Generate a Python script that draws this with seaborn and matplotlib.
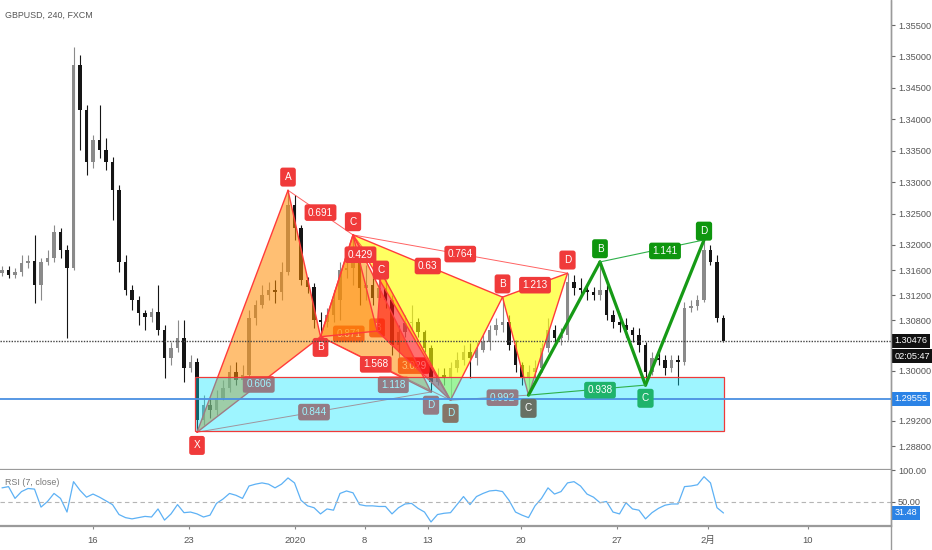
import numpy as np
import pandas as pd
import matplotlib
matplotlib.use("Agg")
import matplotlib.pyplot as plt
import seaborn as sns
from matplotlib.patches import Polygon, Rectangle

sns.set_theme(style="white")
plt.rcParams["font.family"] = ["Liberation Sans", "DejaVu Sans", "Noto Sans CJK JP"]

# ---------------- data (GBPUSD, 8h-resampled candles) ----------------
opens = [1.3155,1.3160,1.3152,1.3157,1.3171,1.3174,1.3136,1.3173,1.3179,1.3221,
         1.3192,1.3163,1.3486,1.3415,1.3332,1.3367,1.3351,1.3332,1.3287,1.3173,
         1.3128,1.3112,1.3092,1.3085,1.3093,1.3065,1.3020,1.3036,1.3052,1.3004,
         1.3014,1.2921,1.2945,1.2937,1.2956,1.2972,1.2998,1.2985,1.2993,1.3084,
         1.3104,1.3120,1.3128,1.3125,1.3157,1.3264,1.3227,1.3144,1.3133,1.3081,
         1.3077,1.3089,1.3112,1.3160,1.3163,1.3173,1.3132,1.3136,1.3116,1.3132,
         1.3112,1.3041,1.3061,1.3076,1.3077,1.3061,1.3036,1.2982,1.2993,1.2988,
         1.3004,1.3017,1.3030,1.3020,1.3033,1.3046,1.3065,1.3073,1.3077,1.3041,
         1.3009,1.2988,1.2998,1.3004,1.3036,1.3065,1.3052,1.3057,1.3141,1.3132,
         1.3128,1.3125,1.3120,1.3128,1.3089,1.3077,1.3073,1.3065,1.3057,1.3041,
         1.2998,1.3020,1.3017,1.3004,1.3017,1.3014,1.3100,1.3103,1.3112,1.3192,
         1.3173,1.3084]
highs = [1.3167,1.3167,1.3163,1.3184,1.3184,1.3216,1.3179,1.3192,1.3232,1.3227,
         1.3200,1.3515,1.3502,1.3423,1.3375,1.3423,1.3370,1.3340,1.3295,1.3184,
         1.3136,1.3119,1.3096,1.3100,1.3136,1.3073,1.3046,1.3081,1.3081,1.3025,
         1.3020,1.2961,1.2956,1.2969,1.2985,1.3009,1.3014,1.3009,1.3096,1.3112,
         1.3136,1.3141,1.3144,1.3173,1.3287,1.3280,1.3232,1.3149,1.3139,1.3093,
         1.3100,1.3128,1.3173,1.3176,1.3216,1.3184,1.3168,1.3147,1.3157,1.3144,
         1.3120,1.3073,1.3089,1.3104,1.3084,1.3065,1.3041,1.3004,1.3004,1.3014,
         1.3030,1.3041,1.3044,1.3046,1.3057,1.3073,1.3084,1.3117,1.3089,1.3049,
         1.3014,1.3009,1.3017,1.3044,1.3084,1.3073,1.3068,1.3155,1.3152,1.3147,
         1.3139,1.3133,1.3173,1.3136,1.3096,1.3092,1.3084,1.3069,1.3068,1.3046,
         1.3030,1.3030,1.3025,1.3025,1.3025,1.3109,1.3112,1.3120,1.3208,1.3200,
         1.3184,1.3089]
lows = [1.3151,1.3147,1.3147,1.3151,1.3163,1.3108,1.3112,1.3168,1.3173,1.3179,
        1.3052,1.3160,1.3351,1.3311,1.3322,1.3338,1.3319,1.3240,1.3157,1.3120,
        1.3096,1.3073,1.3065,1.3077,1.3057,1.2988,1.3009,1.3030,1.2982,1.2998,
        1.2902,1.2914,1.2925,1.2929,1.2953,1.2966,1.2977,1.2966,1.2988,1.3073,
        1.3100,1.3112,1.3108,1.3112,1.3152,1.3208,1.3136,1.3124,1.3068,1.3054,
        1.3069,1.3077,1.3081,1.3147,1.3136,1.3104,1.3112,1.3104,1.3112,1.3100,
        1.3025,1.3020,1.3054,1.3065,1.3054,1.3030,1.2966,1.2977,1.2977,1.2953,
        1.2998,1.3009,1.2988,1.3009,1.3030,1.3033,1.3057,1.3061,1.3033,1.2998,
        1.2977,1.2961,1.2988,1.2998,1.3030,1.3041,1.3041,1.3049,1.3120,1.3119,
        1.3112,1.3112,1.3112,1.3081,1.3068,1.3061,1.3054,1.3046,1.3030,1.2977,
        1.2993,1.3009,1.2993,1.2998,1.2977,1.3009,1.3093,1.3096,1.3109,1.3168,
        1.3077,1.3046]
closes = [1.3160,1.3152,1.3157,1.3171,1.3174,1.3136,1.3173,1.3179,1.3221,1.3192,
          1.3163,1.3486,1.3415,1.3332,1.3367,1.3351,1.3332,1.3287,1.3173,1.3128,
          1.3112,1.3092,1.3085,1.3093,1.3065,1.3020,1.3036,1.3052,1.3004,1.3014,
          1.2921,1.2945,1.2937,1.2956,1.2972,1.2998,1.2985,1.2993,1.3084,1.3104,
          1.3120,1.3128,1.3125,1.3157,1.3264,1.3227,1.3144,1.3133,1.3081,1.3077,
          1.3089,1.3112,1.3160,1.3163,1.3173,1.3132,1.3136,1.3116,1.3132,1.3112,
          1.3041,1.3061,1.3076,1.3077,1.3061,1.3036,1.2982,1.2993,1.2988,1.3004,
          1.3017,1.3030,1.3020,1.3033,1.3046,1.3065,1.3073,1.3077,1.3041,1.3009,
          1.2988,1.2998,1.3004,1.3036,1.3065,1.3052,1.3057,1.3141,1.3132,1.3128,
          1.3125,1.3120,1.3128,1.3089,1.3077,1.3073,1.3065,1.3057,1.3041,1.2998,
          1.3020,1.3017,1.3004,1.3017,1.3014,1.3100,1.3103,1.3112,1.3192,1.3173,
          1.3084,1.30476]
rsi = [72,74,55,66,71,70,41,50,63,55,
       33,82,68,57,62,57,51,45,29,24,
       22,24,26,25,38,20,30,45,32,33,
       30,25,28,47,54,63,60,55,75,78,
       80,78,72,78,88,80,52,43,40,30,
       38,36,63,67,64,45,43,43,42,42,
       30,40,46,47,39,33,17,29,31,32,
       45,58,45,58,63,67,68,66,52,33,
       28,24,43,55,72,62,66,80,82,75,
       62,57,48,50,33,30,48,38,36,22,
       32,39,44,46,46,74,75,77,90,80,
       40,31.48]

date_labels = ["16", "23", "2020", "8", "13", "20", "27", "2月", "10"]
date_pos = [14.0, 28.8, 45.1, 55.8, 65.5, 79.8, 94.6, 108.6, 124.0]
price_ticks = [1.288, 1.292, 1.300, 1.308, 1.312, 1.316, 1.320,
               1.325, 1.330, 1.335, 1.340, 1.345, 1.350, 1.355]
last_price = 1.30476
hline_price = 1.29555
rsi_last = 31.48
countdown = "02:05:47"

# harmonic pattern points (candle index, price)
p1_x = [30, 44, 49, 54, 66]
p1_y = [1.2902, 1.3287, 1.3054, 1.3216, 1.2966]
p1_ratios = ["0.606", "0.691", "1.568", "0.844"]   # XB, AC, BD, XD
p2_x = [49, 54, 57.7, 58.3, 69]
p2_y = [1.3054, 1.3216, 1.3063, 1.3157, 1.2953]
p2_ratios = ["0.871", "0.429", "3.029", "1.118"]
p3_x = [54, 69, 77, 81, 87]
p3_y = [1.3216, 1.2953, 1.3117, 1.2961, 1.3155]
p3_ratios = ["0.63", "0.992", "1.213", "0.764"]
p4_x = [81, 92, 99, 108]
p4_y = [1.2961, 1.3173, 1.2977, 1.3208]
p4_ratios = ["0.938", "1.141"]   # AC, BD
zone_x = [29.7, 111.1]
zone_y = [1.2904, 1.2990]

# ---------------- figure ----------------
W, H = 932, 550
fig = plt.figure(figsize=(W / 100, H / 100), dpi=100)
ax = fig.add_axes([0, 80 / H, 891 / W, 470 / H])
ax2 = fig.add_axes([0, 24 / H, 891 / W, 56 / H])

XL = (-0.31, 136.77)
ax.set_xlim(*XL)
ax.set_ylim(1.28419, 1.35898)
ax2.set_xlim(*XL)
ax2.set_ylim(10.5, 100.8)

for a in (ax, ax2):
    a.set_facecolor("white")
    for s in ["top", "left"]:
        a.spines[s].set_visible(False)
    a.spines["right"].set_color("#9a9a9a")
    a.spines["bottom"].set_color("#9a9a9a")
    a.spines["bottom"].set_linewidth(1.6)
    a.spines["right"].set_linewidth(1.0)
    a.grid(False)

# candles
df = pd.DataFrame({"i": np.arange(len(closes)), "o": opens, "h": highs, "l": lows, "c": closes})
up = df.c >= df.o
cols = np.where(up, "#8a8a8a", "#151515")
ax.vlines(df.i, df.l, df.h, colors=cols, lw=0.8, zorder=2)
body = (df.c - df.o).abs().clip(lower=0.00008)
ax.bar(df.i, body, bottom=np.minimum(df.o, df.c), width=0.5, color=cols, lw=0, zorder=2.1)

RED = "#f03a3a"
LRED = "#ff3b3b"
ORANGE = "#ff8c00"


def tag(x, y, s, fc, tc="white", z=5, fs=7.2, pad=0.33):
    ax.text(x, y, s, ha="center", va="center", fontsize=fs, color=tc, zorder=z,
            bbox=dict(boxstyle=f"round,pad={pad},rounding_size=0.25", fc=fc, ec="none"))


def mid(xs, ys, a, b):
    return (xs[a] + xs[b]) / 2, (ys[a] + ys[b]) / 2


def tri(xs, ys, idx, fc, alpha, z):
    pts = [(xs[k], ys[k]) for k in idx]
    ax.add_patch(Polygon(pts, closed=True, fc=fc, ec="none", alpha=alpha, zorder=z))


def seg(xs, ys, a, b, color, lw, z, alpha=1.0):
    ax.plot([xs[a], xs[b]], [ys[a], ys[b]], color=color, lw=lw, zorder=z, alpha=alpha,
            solid_capstyle="round")


OFF = 0.0021
# --- pattern 2 (under the fills) faded labels
for (a, b), r in zip([(0, 2), (2, 4), (0, 4)], [p2_ratios[0], p2_ratios[2], p2_ratios[3]]):
    mx, my = mid(p2_x, p2_y, a, b)
    if r == p2_ratios[3]:
        mx, my = mx + 1.2, my - 0.0026
    tag(mx, my, r, RED, z=2.6)
tag(p2_x[2], p2_y[2] + 0.0005, "B", RED, z=2.6, pad=0.45)

# fills
tri(p1_x, p1_y, [0, 1, 2], ORANGE, 0.55, 3)
tri(p1_x, p1_y, [2, 3, 4], ORANGE, 0.55, 3)
tri(p2_x, p2_y, [0, 1, 2], ORANGE, 0.45, 3.1)
tri(p2_x, p2_y, [2, 3, 4], "#ff1010", 0.6, 3.1)
tri(p3_x, p3_y, [0, 1, 2], "#ffff00", 0.62, 3.2)
tri(p3_x, p3_y, [2, 3, 4], "#ffff00", 0.62, 3.2)

# outlines
for xs, ys in [(p1_x, p1_y), (p2_x, p2_y), (p3_x, p3_y)]:
    for a, b in [(0, 1), (1, 2), (2, 0), (2, 3), (3, 4), (4, 2)]:
        seg(xs, ys, a, b, LRED, 1.0, 4)
    for a, b in [(1, 3), (0, 4)]:
        seg(xs, ys, a, b, LRED, 0.7, 4, alpha=0.8)

# pattern 1 labels
for (a, b), r in zip([(0, 2), (1, 3), (2, 4), (0, 4)], p1_ratios):
    mx, my = mid(p1_x, p1_y, a, b)
    tag(mx, my, r, RED)
tag(p1_x[0], p1_y[0] - OFF, "X", RED, pad=0.45)
tag(p1_x[1], p1_y[1] + OFF, "A", RED, pad=0.45)
tag(p1_x[2], p1_y[2] - OFF + 0.0004, "B", RED, pad=0.45)
tag(p1_x[3], p1_y[3] + OFF, "C", RED, pad=0.45)
tag(p1_x[4], p1_y[4] - OFF, "D", RED, pad=0.45)
# pattern 2 visible labels
mx, my = mid(p2_x, p2_y, 1, 3)
tag(mx - 1.0, my - 0.0002, p2_ratios[1], RED, z=5)
tag(p2_x[3], p2_y[3] + 0.0003, "C", RED, z=5.1, pad=0.45)
tag(p2_x[4], p2_y[4] - OFF, "D", "#d8300a", pad=0.45)
# pattern 3 labels
for (a, b), r in zip([(0, 2), (1, 3), (2, 4), (0, 4)], p3_ratios):
    mx, my = mid(p3_x, p3_y, a, b)
    if r == "0.992":
        mx += 2.0
    tag(mx, my, r, RED)
tag(p3_x[2], p3_y[2] + OFF, "B", RED, pad=0.45)
tag(p3_x[4], p3_y[4] + OFF, "D", RED, pad=0.45)

# zone box
ax.add_patch(Rectangle((zone_x[0], zone_y[0]), zone_x[1] - zone_x[0], zone_y[1] - zone_y[0],
                       fc=(0.0, 0.9, 1.0, 0.38), ec="#ef3a3a", lw=0.9, zorder=6))

# horizontal lines
ax.axhline(hline_price, color="#4a90e2", lw=1.3, zorder=6.5)
ax.axhline(last_price, color="#444444", lw=1.0, ls=(0, (1, 1)), zorder=6.5)

# pattern 3 C label (shared with the ABCD start)
tag(p3_x[3], p3_y[3] - OFF, "C", "#687064", z=6.8, pad=0.45)

# pattern 4 (ABCD, green)
G = "#169a16"
for a, b in [(0, 1), (1, 2), (2, 3)]:
    seg(p4_x, p4_y, a, b, G, 2.3, 7)
for a, b in [(0, 2), (1, 3)]:
    seg(p4_x, p4_y, a, b, "#2fb04a", 0.8, 7)
mx, my = mid(p4_x, p4_y, 0, 2)
tag(mx + 2.0, my, p4_ratios[0], "#1fb36b", z=8)
mx, my = mid(p4_x, p4_y, 1, 3)
tag(mx + 2.0, my, p4_ratios[1], "#0e960e", z=8)
tag(p4_x[1], p4_y[1] + OFF, "B", "#0e960e", z=8, pad=0.45)
tag(p4_x[2], p4_y[2] - OFF, "C", "#1fb36b", z=8, pad=0.45)
tag(p4_x[3], p4_y[3] + 0.0014, "D", "#0e960e", z=8, pad=0.45)

# axes / ticks
ax.set_xticks([])
ax.yaxis.tick_right()
ax.set_yticks(price_ticks)
ax.set_yticklabels([f"{t:.5f}" for t in price_ticks])
ax.tick_params(axis="y", length=3, width=0.8, color="#666666", labelsize=6.6,
               labelcolor="#555555", pad=2, right=True)

ax.text(5 / 891, 1 - 15 / 470, "GBPUSD, 240, FXCM", transform=ax.transAxes,
        fontsize=6.4, color="#555555", ha="left", va="center")

trans = ax.get_yaxis_transform()


def axis_tag(a, tr, y, s, fc, dy=0):
    a.annotate(s, xy=(1.0, y), xycoords=tr, xytext=(2.5, dy), textcoords="offset points",
               ha="left", va="center", fontsize=6.6, color="white", annotation_clip=False,
               bbox=dict(boxstyle="square,pad=0.28", fc=fc, ec="none"), zorder=10)


axis_tag(ax, trans, last_price, f"{last_price:.5f}", "#111111")
axis_tag(ax, trans, last_price, countdown, "#111111", dy=-11)
axis_tag(ax, trans, hline_price, f"{hline_price:.5f}", "#2b83e6")

# RSI pane
idx = np.arange(len(rsi))
sns.lineplot(x=idx, y=rsi, ax=ax2, color="#5db1f5", linewidth=0.9)
ax2.axhline(50, color="#b5b5b5", lw=0.8, ls=(0, (4, 3)))
ax2.yaxis.tick_right()
ax2.set_yticks([50, 100])
ax2.set_yticklabels(["50.00", "100.00"])
ax2.tick_params(axis="y", length=3, width=0.8, color="#666666", labelsize=6.6,
                labelcolor="#555555", pad=2)
ax2.set_xticks(date_pos)
ax2.set_xticklabels(date_labels)
ax2.tick_params(axis="x", length=2, width=0.8, color="#888888", labelsize=6.8,
                labelcolor="#555555", pad=5, bottom=True)
ax2.set_xlabel("")
ax2.set_ylabel("")
ax2.text(5 / 891, 0.78, "RSI (7, close)", transform=ax2.transAxes, fontsize=6.4,
         color="#777777", ha="left", va="center")
axis_tag(ax2, ax2.get_yaxis_transform(), rsi_last, f"{rsi_last:.2f}", "#2b83e6")

# right axis vertical line over full height
fig.add_artist(plt.Line2D([891 / W, 891 / W], [0, 1], color="#9a9a9a", lw=1.0))

fig.savefig("out.png", dpi=100)
